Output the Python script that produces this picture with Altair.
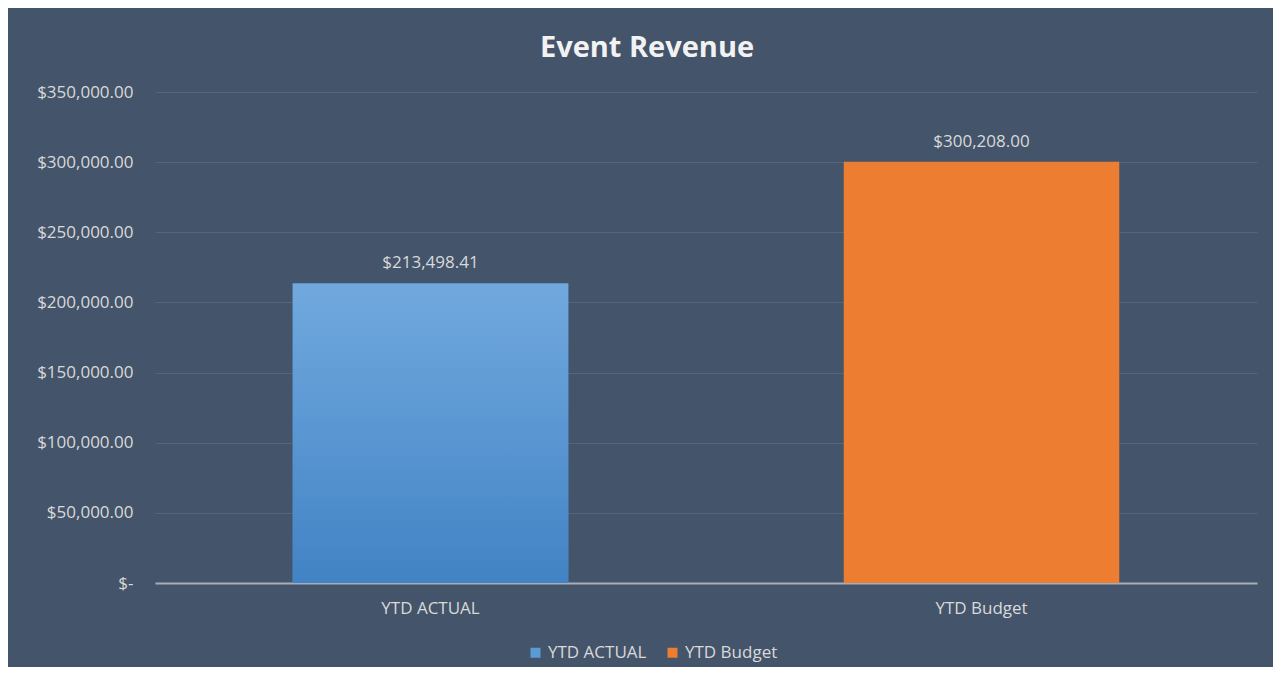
import altair as alt
import pandas as pd

categories = ["YTD ACTUAL", "YTD Budget"]
values = [213498.41, 300208.00]
colors = ["#5B9BD5", "#ED7D31"]
y_ticks = [0, 50000, 100000, 150000, 200000, 250000, 300000, 350000]

df = pd.DataFrame({"category": categories, "value": values})

BG = "#44546A"
TXT = "#D9D9D9"
FONT = "Open Sans"

x_enc = alt.X(
    "category:N",
    sort=categories,
    scale=alt.Scale(paddingInner=0.5, paddingOuter=0.25),
    axis=alt.Axis(
        title=None,
        labelAngle=0,
        labelFontSize=17,
        labelColor=TXT,
        labelFont=FONT,
        labelPadding=17,
        ticks=False,
        domain=True,
        domainColor="#A6ADB7",
        domainWidth=2,
        grid=False,
    ),
)

y_enc = alt.Y(
    "value:Q",
    scale=alt.Scale(domain=[0, 350000], nice=False),
    axis=alt.Axis(
        title=None,
        values=y_ticks,
        labelExpr="datum.value == 0 ? '$-\u00a0\u00a0' : '$' + format(datum.value, ',.2f')",
        labelFontSize=17,
        labelColor=TXT,
        labelFont=FONT,
        labelPadding=22,
        ticks=False,
        domain=False,
        grid=True,
        gridColor="#56657A",
        gridWidth=1,
    ),
)

base = alt.Chart(df)

bars = base.mark_bar().encode(
    x=x_enc,
    y=y_enc,
    color=alt.Color(
        "category:N",
        scale=alt.Scale(domain=categories, range=colors),
        legend=alt.Legend(
            title=None,
            orient="none",
            direction="horizontal",
            legendX=372,
            legendY=552,
            symbolType="square",
            symbolSize=100,
            symbolStrokeWidth=0,
            labelFontSize=17,
            labelColor=TXT,
            labelFont=FONT,
            labelOffset=4,
            columnPadding=17,
            padding=0,
        ),
    ),
)

grad = alt.Gradient(
    gradient="linear",
    stops=[
        alt.GradientStop(color="#71A9DE", offset=0),
        alt.GradientStop(color="#4283C5", offset=1),
    ],
    x1=0, x2=0, y1=0, y2=1,
)

grad_bar = base.transform_filter(
    alt.datum.category == categories[0]
).mark_bar(color=grad).encode(x=x_enc, y=y_enc)

labels = base.mark_text(
    baseline="alphabetic", dy=-15, fontSize=17, color=TXT, font=FONT
).encode(
    x=x_enc,
    y=y_enc,
    text=alt.Text("value:Q", format="$,.2f"),
)

chart = (
    alt.layer(bars, grad_bar, labels)
    .properties(
        width=1102,
        height=491,
        background=BG,
        autosize=alt.AutoSizeParams(type="none"),
        padding={"left": 147, "top": 84, "right": 16, "bottom": 84},
        title=alt.TitleParams(
            "Event Revenue",
            fontSize=29,
            fontWeight="bold",
            color="#F2F2F2",
            font=FONT,
            anchor="middle",
            frame="group",
            dx=-59,
            offset=20,
        ),
    )
    .configure_view(stroke=None)
)

chart.save("out.html", embed_options={"renderer": "svg", "actions": False})
